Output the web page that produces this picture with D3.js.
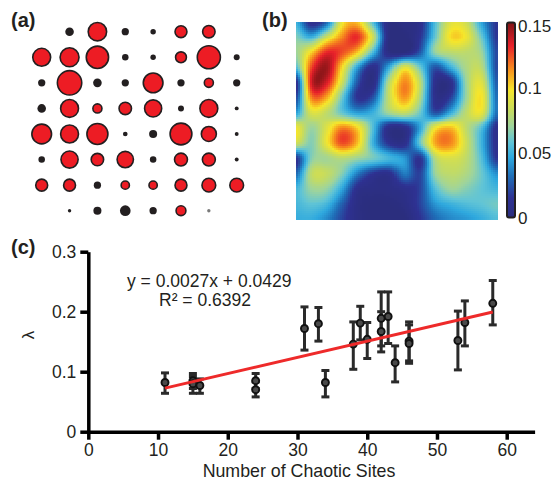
<!DOCTYPE html>
<html><head><meta charset="utf-8">
<script src="https://cdn.jsdelivr.net/npm/d3@7"></script>
<style>body{margin:0;background:#fff;} svg{display:block;font-family:"Liberation Sans",Arial,sans-serif;}</style>
</head><body><svg id="chart" width="557" height="481"></svg>
<script>
// ---------- Panel (a): dot grid (magnitude 0..1, type r=red b=black g=grey) ----------
const dotMagnitude = [
  [0, .33, .77, .28, .21, .52, .54, 0],
  [.75, .79, .92, .25, .21, .48, .95, .23],
  [.28, 1.0, .33, .28, .82, .28, .41, .28],
  [.33, .75, .41, .54, .72, .23, .75, .15],
  [.82, .75, .87, .18, .31, .90, .64, .15],
  [.25, .72, .54, .69, .25, .56, .56, .15],
  [.52, .52, .28, .38, .38, .52, .59, .59],
  [0, .13, .31, .41, .28, .44, .13, 0]
];
const dotType = [
  ["", "b", "r", "b", "b", "r", "r", ""],
  ["r", "r", "r", "b", "b", "r", "r", "b"],
  ["b", "r", "b", "b", "r", "b", "r", "b"],
  ["b", "r", "r", "r", "r", "b", "r", "b"],
  ["r", "r", "r", "b", "b", "r", "r", "b"],
  ["b", "r", "r", "r", "b", "r", "r", "b"],
  ["r", "r", "b", "r", "r", "r", "r", "r"],
  ["", "b", "b", "b", "b", "r", "g", ""]
];

// ---------- Panel (b): heat map grid values (14 x 14) ----------
const heatGrid = [
  [0.050, 0.010, 0.030, 0.095, 0.105, 0.055, 0.005, 0.005, 0.010, 0.055, 0.090, 0.085, 0.045, 0.015],
  [0.065, 0.050, 0.085, 0.115, 0.130, 0.085, 0.005, 0.000, 0.015, 0.060, 0.100, 0.095, 0.060, 0.015],
  [0.070, 0.100, 0.130, 0.125, 0.105, 0.055, 0.005, 0.000, 0.025, 0.070, 0.080, 0.080, 0.070, 0.020],
  [0.055, 0.125, 0.145, 0.100, 0.045, 0.010, 0.045, 0.090, 0.060, 0.025, 0.050, 0.075, 0.078, 0.020],
  [0.010, 0.135, 0.135, 0.085, 0.025, 0.005, 0.075, 0.115, 0.080, 0.010, 0.010, 0.070, 0.090, 0.025],
  [0.020, 0.115, 0.108, 0.060, 0.015, 0.025, 0.080, 0.112, 0.075, 0.010, 0.020, 0.070, 0.098, 0.030],
  [0.045, 0.088, 0.080, 0.060, 0.045, 0.050, 0.070, 0.080, 0.060, 0.025, 0.050, 0.080, 0.092, 0.030],
  [0.095, 0.070, 0.090, 0.115, 0.100, 0.055, 0.010, 0.010, 0.045, 0.095, 0.105, 0.080, 0.055, 0.010],
  [0.085, 0.065, 0.095, 0.125, 0.105, 0.050, 0.015, 0.010, 0.060, 0.110, 0.115, 0.085, 0.050, 0.010],
  [0.015, 0.065, 0.072, 0.078, 0.070, 0.062, 0.052, 0.042, 0.015, 0.078, 0.088, 0.080, 0.055, 0.015],
  [0.030, 0.080, 0.082, 0.065, 0.035, 0.015, 0.010, 0.035, 0.020, 0.070, 0.080, 0.075, 0.060, 0.040],
  [0.052, 0.070, 0.068, 0.045, 0.010, 0.005, 0.005, 0.010, 0.020, 0.055, 0.070, 0.065, 0.058, 0.052],
  [0.052, 0.058, 0.052, 0.028, 0.005, 0.000, 0.000, 0.005, 0.020, 0.042, 0.050, 0.055, 0.058, 0.062],
  [0.048, 0.048, 0.038, 0.020, 0.005, 0.000, 0.000, 0.000, 0.015, 0.030, 0.038, 0.042, 0.048, 0.055]
];
const colorbarTicks = [0, 0.05, 0.1, 0.15];
const colorbarTickLabels = ["0", "0.05", "0.1", "0.15"];
const jetStops = [0, 0.015, 0.032, 0.046, 0.058, 0.070, 0.083, 0.098, 0.113, 0.132, 0.150];
const jetColors = ["#2b2e7e", "#2e3192", "#1f6fb8", "#2ea8de", "#60c4d6", "#9ed49c", "#c8dc5c", "#f6e62a", "#f7941d", "#e8202a", "#7f1416"];

// ---------- Panel (c): lambda vs number of chaotic sites ----------
const chaoticSites = [11, 15, 15, 16, 24, 24, 31, 33, 34, 38, 39, 40, 42, 42, 43, 44, 46, 46, 53, 54, 58];
const lambdaMean = [0.082, 0.085, 0.080, 0.077, 0.085, 0.070, 0.172, 0.180, 0.082, 0.146, 0.181, 0.154, 0.189, 0.167, 0.192, 0.115, 0.151, 0.147, 0.152, 0.182, 0.214];
const lambdaLow  = [0.064, 0.072, 0.064, 0.064, 0.072, 0.058, 0.136, 0.151, 0.058, 0.104, 0.153, 0.122, 0.143, 0.133, 0.147, 0.083, 0.118, 0.114, 0.103, 0.143, 0.178];
const lambdaHigh = [0.098, 0.097, 0.092, 0.088, 0.097, 0.083, 0.208, 0.207, 0.102, 0.183, 0.209, 0.182, 0.233, 0.200, 0.233, 0.143, 0.183, 0.178, 0.201, 0.218, 0.252];
const fitSlope = 0.0027, fitIntercept = 0.0429, fitRange = [11, 58];
const xTicks = [0, 10, 20, 30, 40, 50, 60];
const yTicks = [0, 0.1, 0.2, 0.3];
const yTickLabels = ["0", "0.1", "0.2", "0.3"];

const svg = d3.select("#chart");
const INK = "#231f20";

// ===== Panel (a) =====
const ax = d3.scaleLinear().domain([0, 7]).range([41.7, 236.7]);
const ay = d3.scaleLinear().domain([0, 7]).range([31.7, 210.7]);
const ar = d3.scaleLinear().domain([0, 1]).range([0, 13]);
const dots = [];
dotMagnitude.forEach((row, i) => row.forEach((m, j) => { if (dotType[i][j]) dots.push({i, j, m, t: dotType[i][j]}); }));
const gA = svg.append("g");
gA.selectAll("circle").data(dots).join("circle")
  .attr("cx", d => ax(d.j)).attr("cy", d => ay(d.i))
  .attr("r", d => d.t === "r" ? Math.max(ar(d.m) - 0.8, 0.5) : ar(d.m))
  .attr("fill", d => d.t === "r" ? "#ed1c24" : (d.t === "g" ? "#7a7a7a" : INK))
  .attr("stroke", d => d.t === "r" ? INK : "none")
  .attr("stroke-width", 1.6);
svg.append("text").attr("x", 11).attr("y", 27).attr("font-size", 20).attr("font-weight", "bold").attr("fill", INK).text("(a)");

// ===== Panel (b) =====
const color = d3.scaleLinear().domain(jetStops).range(jetColors).clamp(true);
const n = heatGrid.length;
const hx = d3.scaleLinear().domain([0, n - 1]).range([296, 497]);
const hy = d3.scaleLinear().domain([0, n - 1]).range([21.7, 219.3]);
function cr(p0, p1, p2, p3, t) {
  return p1 + 0.5 * t * (p2 - p0 + t * (2 * p0 - 5 * p1 + 4 * p2 - p3 + t * (3 * (p1 - p2) + p3 - p0)));
}
function g(r, c) { r = Math.max(0, Math.min(n - 1, r)); c = Math.max(0, Math.min(n - 1, c)); return heatGrid[r][c]; }
function sample(gx, gy) {
  const ix = Math.min(Math.floor(gx), n - 2), iy = Math.min(Math.floor(gy), n - 2);
  const tx = gx - ix, ty = gy - iy;
  const rows = [-1, 0, 1, 2].map(k => cr(g(iy + k, ix - 1), g(iy + k, ix), g(iy + k, ix + 1), g(iy + k, ix + 2), tx));
  return cr(rows[0], rows[1], rows[2], rows[3], ty);
}
const FINE = 100;
const cells = [];
for (let a = 0; a < FINE; a++) for (let b = 0; b < FINE; b++) {
  const gx0 = a / FINE * (n - 1), gx1 = (a + 1) / FINE * (n - 1);
  const gy0 = b / FINE * (n - 1), gy1 = (b + 1) / FINE * (n - 1);
  cells.push({gx0, gx1, gy0, gy1, v: sample((gx0 + gx1) / 2, (gy0 + gy1) / 2)});
}
svg.append("g").attr("shape-rendering", "crispEdges").selectAll("rect").data(cells).join("rect")
  .attr("x", d => hx(d.gx0)).attr("y", d => hy(d.gy0))
  .attr("width", d => hx(d.gx1) - hx(d.gx0) + 0.6).attr("height", d => hy(d.gy1) - hy(d.gy0) + 0.6)
  .attr("fill", d => color(d.v));
svg.append("text").attr("x", 262).attr("y", 27).attr("font-size", 20).attr("font-weight", "bold").attr("fill", INK).text("(b)");

// colorbar
const cb = d3.scaleLinear().domain([0, 0.15]).range([217.5, 22.5]);
const defs = svg.append("defs");
const grad = defs.append("linearGradient").attr("id", "cbgrad").attr("x1", 0).attr("y1", 1).attr("x2", 0).attr("y2", 0);
grad.selectAll("stop").data(jetStops).join("stop")
  .attr("offset", d => d / 0.15).attr("stop-color", d => color(d));
svg.append("rect").attr("x", 507).attr("y", cb(0.15)).attr("width", 8).attr("height", cb(0) - cb(0.15))
  .attr("rx", 2).attr("fill", "url(#cbgrad)").attr("stroke", INK).attr("stroke-width", 2);
svg.append("g").selectAll("text").data(colorbarTicks).join("text")
  .attr("x", 518).attr("y", (d, i) => cb(d) + (i === 3 ? 3 : 0)).attr("dy", "0.36em")
  .attr("font-size", 17).attr("fill", INK).text((d, i) => colorbarTickLabels[i]);

// ===== Panel (c) =====
const x = d3.scaleLinear().domain([0, 64]).range([88.3, 534.6]);
const y = d3.scaleLinear().domain([0, 0.3]).range([431.7, 251.7]);
const xAxis = svg.append("g").attr("transform", `translate(0,${y(0)})`)
  .call(d3.axisBottom(x).tickValues(xTicks).tickSize(8).tickSizeOuter(0).tickPadding(4).tickFormat(d3.format("d")));
const yAxis = svg.append("g").attr("transform", `translate(${x(0)},0)`)
  .call(d3.axisLeft(y).tickValues(yTicks).tickSize(8).tickSizeOuter(0).tickPadding(4).tickFormat((d, i) => yTickLabels[i]));
[xAxis, yAxis].forEach(a => {
  a.select(".domain").attr("stroke", "#000").attr("stroke-width", 3.5);
  a.selectAll(".tick line").attr("stroke", "#000").attr("stroke-width", 3.5);
  a.selectAll(".tick text").attr("font-size", 17.5).attr("fill", INK).attr("font-family", "Liberation Sans, Arial, sans-serif");
});
svg.append("text").attr("x", 299).attr("y", 477).attr("text-anchor", "middle").attr("font-size", 17.8).attr("fill", INK).text("Number of Chaotic Sites");
svg.append("text").attr("transform", "translate(34,335) rotate(-90)").attr("text-anchor", "middle").attr("font-size", 17).attr("fill", INK).text("λ");

const pts = chaoticSites.map((s, i) => ({s, m: lambdaMean[i], lo: lambdaLow[i], hi: lambdaHigh[i]}));
const eb = svg.append("g").attr("stroke", "#2a2a2a").attr("stroke-width", 3);
eb.selectAll("line.v").data(pts).join("line").attr("class", "v")
  .attr("x1", d => x(d.s)).attr("x2", d => x(d.s)).attr("y1", d => y(d.lo)).attr("y2", d => y(d.hi));
eb.selectAll("line.t").data(pts).join("line").attr("class", "t")
  .attr("x1", d => x(d.s) - 4).attr("x2", d => x(d.s) + 4).attr("y1", d => y(d.hi)).attr("y2", d => y(d.hi));
eb.selectAll("line.b").data(pts).join("line").attr("class", "b")
  .attr("x1", d => x(d.s) - 4).attr("x2", d => x(d.s) + 4).attr("y1", d => y(d.lo)).attr("y2", d => y(d.lo));
svg.append("g").selectAll("circle").data(pts).join("circle")
  .attr("cx", d => x(d.s)).attr("cy", d => y(d.m)).attr("r", 3.5)
  .attr("fill", "#4a4a4a").attr("stroke", "#111").attr("stroke-width", 1.9);
svg.append("line")
  .attr("x1", x(fitRange[0])).attr("y1", y(fitSlope * fitRange[0] + fitIntercept))
  .attr("x2", x(fitRange[1])).attr("y2", y(fitSlope * fitRange[1] + fitIntercept))
  .attr("stroke", "#ee2a2a").attr("stroke-width", 3);
svg.append("text").attr("x", 127).attr("y", 287).attr("font-size", 17.5).attr("fill", INK).text("y = 0.0027x + 0.0429");
svg.append("text").attr("x", 159).attr("y", 305.5).attr("font-size", 17.5).attr("fill", INK).text("R² = 0.6392");
svg.append("text").attr("x", 11).attr("y", 254).attr("font-size", 20).attr("font-weight", "bold").attr("fill", INK).text("(c)");
</script></body></html>
